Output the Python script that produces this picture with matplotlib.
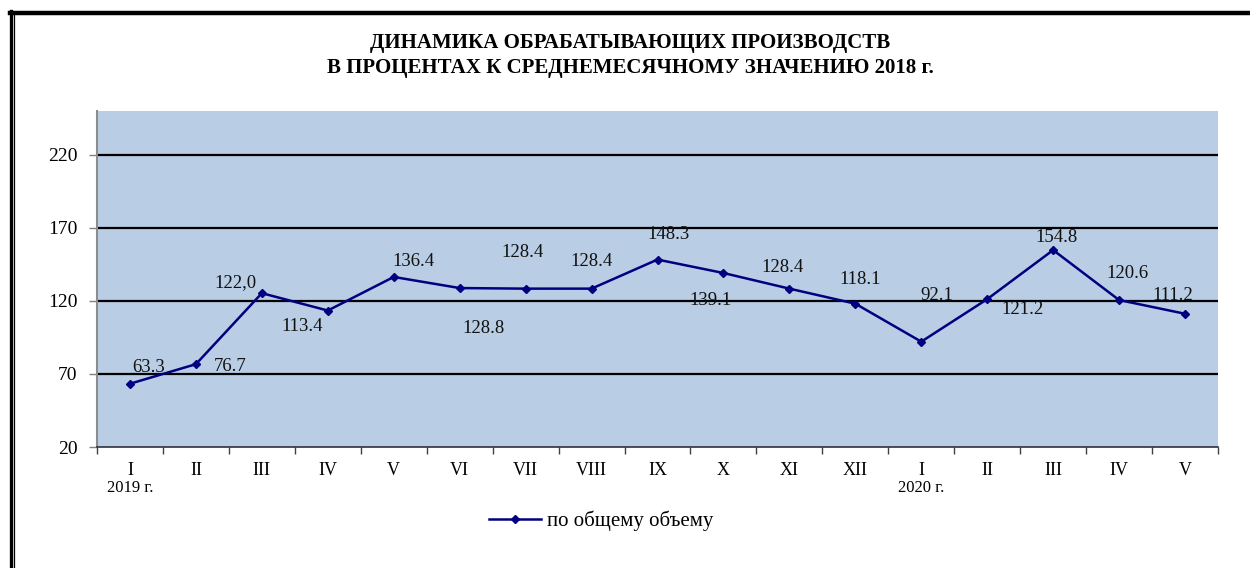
import matplotlib
matplotlib.use("Agg")
import matplotlib.pyplot as plt
import numpy as np
from matplotlib.lines import Line2D
from matplotlib.transforms import blended_transform_factory

# ---- data ----
months = ["I", "II", "III", "IV", "V", "VI", "VII", "VIII", "IX", "X", "XI", "XII",
          "I", "II", "III", "IV", "V"]
values = [63.3, 76.7, 125.3, 113.4, 136.4, 128.8, 128.4, 128.4, 148.3, 139.1,
          128.4, 118.1, 92.1, 121.2, 154.8, 120.6, 111.2]
labels = ["63.3", "76.7", "122,0", "113.4", "136.4", "128.8", "128.4", "128.4", "148.3",
          "139.1", "128.4", "118.1", "92.1", "121.2", "154.8", "120.6", "111.2"]
label_offsets = [(19, -16), (34, 2), (-26, -11), (-26, 16), (20, -15), (24, 40), (-3, -36),
                 (0, -27), (11, -25), (-13, 27), (-7, -21), (5, -24), (16, -46), (35, 10),
                 (3, -13), (8, -27), (-12, -18)]
year_labels = {0: "2019 г.", 12: "2020 г."}
yticks = [20, 70, 120, 170, 220]
series_name = "по общему объему"
title = "ДИНАМИКА ОБРАБАТЫВАЮЩИХ ПРОИЗВОДСТВ\nВ ПРОЦЕНТАХ К СРЕДНЕМЕСЯЧНОМУ ЗНАЧЕНИЮ 2018 г."

plt.rcParams['font.family'] = ['Liberation Serif', 'DejaVu Serif']

W, H = 1250, 568
fig = plt.figure(figsize=(W / 100, H / 100), dpi=100)
ax = fig.add_axes([97 / W, 1 - 447 / H, (1218 - 97) / W, (447 - 111) / H])
ax.set_facecolor("#B9CDE5")

x = np.arange(len(values))
ax.set_xlim(-0.5, len(values) - 0.5)
ax.set_ylim(20, 250)

for yv in yticks[1:]:
    ax.axhline(yv, color="black", lw=1.6, zorder=1)

line, = ax.plot(x, values, color="#000080", lw=1.8, marker="D", markersize=4.5,
                zorder=3, label=series_name)

for xi, yi, lab, (dx, dy) in zip(x, values, labels, label_offsets):
    ax.annotate(lab, (xi, yi), xytext=(dx, -dy), textcoords="offset pixels",
                ha="center", va="center", fontsize=13.5, color="#111111", zorder=4)

ax.set_yticks(yticks)
ax.set_yticklabels([str(v) for v in yticks], fontsize=14)
ax.set_xticks(x)
ax.set_xticklabels(months, fontsize=13)
ax.set_xticks(np.arange(-0.5, len(values), 1.0), minor=True)
ax.tick_params(axis="x", which="major", length=0, pad=11)
ax.tick_params(axis="x", which="minor", length=5, color="#404040", width=1)
ax.tick_params(axis="y", length=6, color="#808080", width=1, pad=8)

for s in ["top", "right"]:
    ax.spines[s].set_visible(False)
ax.spines["left"].set_color("#8C8C8C")
ax.spines["left"].set_linewidth(1.5)
ax.spines["bottom"].set_color("#303040")
ax.spines["bottom"].set_linewidth(1.2)

trans = blended_transform_factory(ax.transData, fig.transFigure)
for idx, txt in year_labels.items():
    ax.text(idx, 1 - 488 / H, txt, transform=trans, ha="center", va="center",
            fontsize=12)

fig.text(630 / W, 1 - 55.5 / H, title, ha="center", va="center", fontsize=15,
         fontweight="bold", linespacing=1.32)

leg = fig.legend(handles=[line], loc="center", bbox_to_anchor=(601 / W, 1 - 521 / H),
                 frameon=False, fontsize=15, handlelength=2.5, handletextpad=0.3)

# outer frame
fig.add_artist(Line2D([10 / W, 1], [1 - 13 / H, 1 - 13 / H], color="black", lw=3.2,
                      transform=fig.transFigure))
fig.add_artist(Line2D([11 / W, 11 / W], [0, 1 - 11 / H], color="black", lw=2.4,
                      transform=fig.transFigure))
fig.add_artist(Line2D([13.8 / W, 13.8 / W], [0, 1 - 14 / H], color="black", lw=0.9,
                      transform=fig.transFigure))

fig.savefig("out.png", dpi=100)
